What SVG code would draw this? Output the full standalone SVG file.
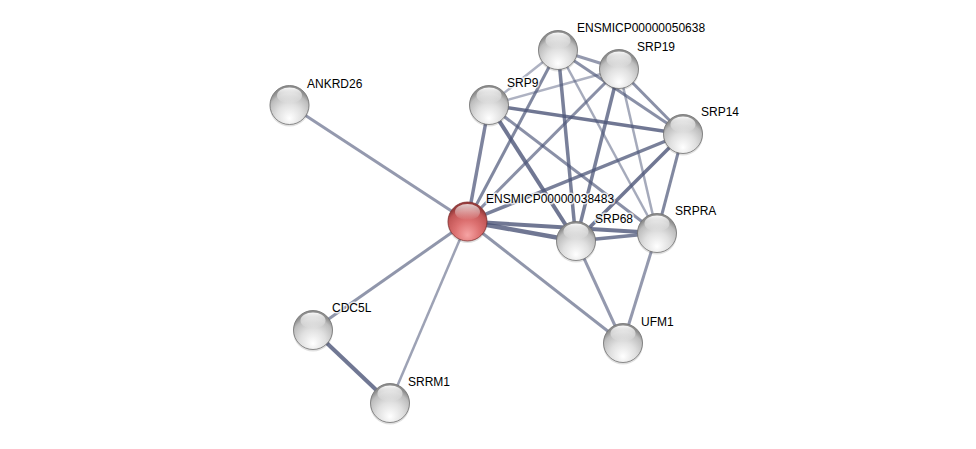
<svg xmlns="http://www.w3.org/2000/svg" width="976" height="449" viewBox="0 0 976 449">
<defs>
<radialGradient id="gBody" cx="50%" cy="75%" r="65%" fx="50%" fy="85%">
<stop offset="0" stop-color="#ffffff"/>
<stop offset="0.5" stop-color="#e0e0e0"/>
<stop offset="0.85" stop-color="#bdbdbd"/>
<stop offset="1" stop-color="#8e8e8e"/>
</radialGradient>
<radialGradient id="rBody" cx="50%" cy="75%" r="65%" fx="50%" fy="85%">
<stop offset="0" stop-color="#f6a4a4"/>
<stop offset="0.5" stop-color="#dc7070"/>
<stop offset="0.85" stop-color="#c25656"/>
<stop offset="1" stop-color="#983c3c"/>
</radialGradient>
<linearGradient id="hl" x1="0" y1="0" x2="0" y2="1">
<stop offset="0" stop-color="#ffffff" stop-opacity="0.95"/>
<stop offset="1" stop-color="#ffffff" stop-opacity="0"/>
</linearGradient>
<g id="ball">
<circle cy="1.5" r="20" fill="#000" fill-opacity="0.12"/>
<circle r="19.5" fill="url(#gBody)" stroke="#707070" stroke-width="0.8"/>
<ellipse cy="-9.5" rx="12.5" ry="8" fill="url(#hl)"/>
</g>
<g id="rball">
<circle cy="1.5" r="20" fill="#000" fill-opacity="0.12"/>
<circle r="19.5" fill="url(#rBody)" stroke="#803030" stroke-width="0.8"/>
<ellipse cy="-9.5" rx="12.5" ry="8" fill="url(#hl)" opacity="0.8"/>
</g>
</defs>
<style>
.e{stroke:#4c5578;fill:none;stroke-linecap:butt}
.t{font-family:"Liberation Sans",Arial,sans-serif;font-size:12px;fill:#000;stroke:#ffffff;stroke-width:3px;stroke-opacity:0.75;paint-order:stroke;stroke-linejoin:round}
</style>
<rect width="976" height="449" fill="#ffffff"/>
<g id="connectors">
<line class="e" x1="467.5" y1="221.5" x2="289.5" y2="105" stroke-width="3" stroke-opacity="0.6"/>
<line class="e" x1="467.5" y1="221.5" x2="313" y2="330" stroke-width="3" stroke-opacity="0.62"/>
<line class="e" x1="467.5" y1="221.5" x2="390" y2="403" stroke-width="2.5" stroke-opacity="0.55"/>
<line class="e" x1="467.5" y1="221.5" x2="623" y2="343" stroke-width="3" stroke-opacity="0.62"/>
<line class="e" x1="313" y1="330" x2="390" y2="403" stroke-width="4" stroke-opacity="0.8"/>
<line class="e" x1="467.5" y1="221.5" x2="489" y2="105" stroke-width="3.5" stroke-opacity="0.72"/>
<line class="e" x1="467.5" y1="221.5" x2="558" y2="50" stroke-width="3" stroke-opacity="0.7"/>
<line class="e" x1="467.5" y1="221.5" x2="619" y2="69" stroke-width="3" stroke-opacity="0.65"/>
<line class="e" x1="467.5" y1="221.5" x2="683" y2="134" stroke-width="3.5" stroke-opacity="0.75"/>
<line class="e" x1="467.5" y1="221.5" x2="576" y2="241" stroke-width="4.5" stroke-opacity="0.8"/>
<line class="e" x1="467.5" y1="221.5" x2="657" y2="233" stroke-width="4" stroke-opacity="0.8"/>
<line class="e" x1="489" y1="105" x2="558" y2="50" stroke-width="2.5" stroke-opacity="0.45"/>
<line class="e" x1="489" y1="105" x2="619" y2="69" stroke-width="2.5" stroke-opacity="0.45"/>
<line class="e" x1="489" y1="105" x2="683" y2="134" stroke-width="3.5" stroke-opacity="0.8"/>
<line class="e" x1="489" y1="105" x2="576" y2="241" stroke-width="4" stroke-opacity="0.8"/>
<line class="e" x1="489" y1="105" x2="657" y2="233" stroke-width="3" stroke-opacity="0.65"/>
<line class="e" x1="558" y1="50" x2="619" y2="69" stroke-width="3" stroke-opacity="0.6"/>
<line class="e" x1="558" y1="50" x2="683" y2="134" stroke-width="3" stroke-opacity="0.65"/>
<line class="e" x1="558" y1="50" x2="576" y2="241" stroke-width="3.5" stroke-opacity="0.75"/>
<line class="e" x1="558" y1="50" x2="657" y2="233" stroke-width="2.5" stroke-opacity="0.5"/>
<line class="e" x1="619" y1="69" x2="683" y2="134" stroke-width="3" stroke-opacity="0.65"/>
<line class="e" x1="619" y1="69" x2="576" y2="241" stroke-width="3.5" stroke-opacity="0.75"/>
<line class="e" x1="619" y1="69" x2="657" y2="233" stroke-width="2.5" stroke-opacity="0.5"/>
<line class="e" x1="683" y1="134" x2="576" y2="241" stroke-width="3.5" stroke-opacity="0.8"/>
<line class="e" x1="683" y1="134" x2="657" y2="233" stroke-width="3" stroke-opacity="0.7"/>
<line class="e" x1="576" y1="241" x2="657" y2="233" stroke-width="3.5" stroke-opacity="0.75"/>
<line class="e" x1="576" y1="241" x2="623" y2="343" stroke-width="3" stroke-opacity="0.6"/>
<line class="e" x1="657" y1="233" x2="623" y2="343" stroke-width="3" stroke-opacity="0.6"/>
</g>
<g id="n-ANKRD26"><use href="#ball" x="289.5" y="105"/><text class="t" x="307" y="88">ANKRD26</text></g>
<g id="n-CDC5L"><use href="#ball" x="313" y="330"/><text class="t" x="332" y="312">CDC5L</text></g>
<g id="n-SRRM1"><use href="#ball" x="390" y="403"/><text class="t" x="408" y="386">SRRM1</text></g>
<g id="n-UFM1"><use href="#ball" x="623" y="343"/><text class="t" x="641" y="326">UFM1</text></g>
<g id="n-SRPRA"><use href="#ball" x="657" y="233"/><text class="t" x="675" y="215">SRPRA</text></g>
<g id="n-SRP68"><use href="#ball" x="576" y="241"/><text class="t" x="595" y="223">SRP68</text></g>
<g id="n-SRP14"><use href="#ball" x="683" y="134"/><text class="t" x="701" y="116">SRP14</text></g>
<g id="n-SRP9"><use href="#ball" x="489" y="105"/><text class="t" x="507" y="87">SRP9</text></g>
<g id="n-SRP19"><use href="#ball" x="619" y="69"/><text class="t" x="637" y="51">SRP19</text></g>
<g id="n-ENSMICP00000050638"><use href="#ball" x="558" y="50"/><text class="t" x="577" y="32">ENSMICP00000050638</text></g>
<g id="n-ENSMICP00000038483"><use href="#rball" x="467.5" y="221.5"/><text class="t" x="486" y="203">ENSMICP00000038483</text></g>
</svg>
